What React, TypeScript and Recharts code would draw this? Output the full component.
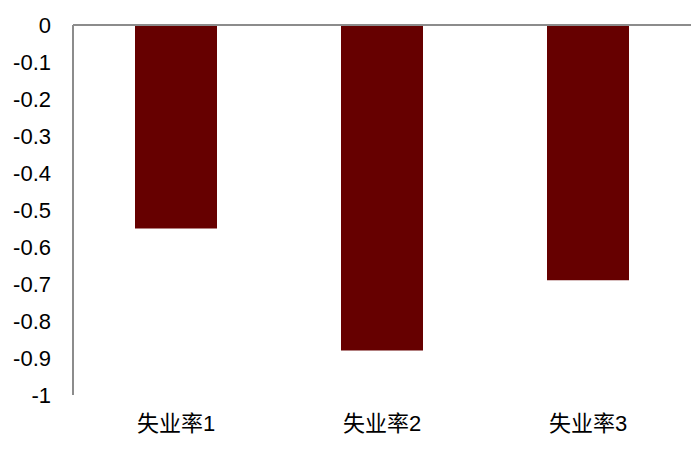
import React from "react";
import { BarChart, Bar, XAxis, YAxis, ReferenceLine } from "recharts";

const categories = ["失业率1", "失业率2", "失业率3"];
const values = [-0.55, -0.88, -0.69];
const yTicks = [0, -0.1, -0.2, -0.3, -0.4, -0.5, -0.6, -0.7, -0.8, -0.9, -1];

const data = categories.map((name, i) => ({ name, value: values[i] }));

const font = "'Liberation Sans', Arial, 'Noto Sans CJK SC', sans-serif";

const App: React.FC = () => (
  <div style={{ position: "absolute", left: 0, top: 0, width: 700, height: 457, background: "#fff" }}>
    <BarChart width={700} height={457} data={data} margin={{ top: 25, right: 9, bottom: 0, left: 0 }}>
      <XAxis
        dataKey="name"
        axisLine={false}
        tickLine={false}
        tickSize={0}
        tickMargin={20}
        height={62}
        tick={{ fill: "#000", fontSize: 22, fontFamily: font }}
      />
      <YAxis
        domain={[-1, 0]}
        ticks={yTicks}
        interval={0}
        width={73}
        axisLine={{ stroke: "#8c8c8c", strokeWidth: 2 }}
        tickLine={false}
        tickSize={0}
        tickMargin={22}
        tickFormatter={(v: number) => String(Math.round(v * 10) / 10)}
        tick={{ fill: "#000", fontSize: 22, fontFamily: font }}
      />
      <ReferenceLine y={0} stroke="#8c8c8c" strokeWidth={2} />
      <Bar dataKey="value" fill="#660000" barSize={82} isAnimationActive={false} />
    </BarChart>
  </div>
);

export default App;
